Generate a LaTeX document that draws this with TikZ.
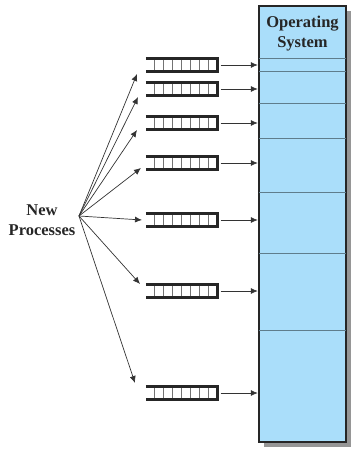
\documentclass[tikz,border=0pt]{standalone}
\usepackage{fontspec}
\setmainfont{Liberation Serif}
\usetikzlibrary{arrows.meta}
\definecolor{osblue}{RGB}{170,222,250}
\definecolor{osline}{RGB}{95,125,140}
\definecolor{shadowgray}{RGB}{150,150,150}
\tikzset{
  qnode/.style={minimum width=71pt, minimum height=13pt, inner sep=0pt, draw=none},
  qbar/.style={line width=3pt, black!85, line join=miter},
  qdiv/.style={line width=0.8pt, black!55},
  arr/.style={-{Latex[length=7pt,width=6pt]}, line width=0.7pt, draw=black!80},
  osbox/.style={minimum width=87pt, minimum height=436pt, inner sep=0pt, fill=osblue, draw=black!85, line width=2.5pt},
  ossep/.style={line width=1pt, osline},
  lbl/.style={font=\fontsize{16.5}{20}\selectfont\bfseries, align=center, text=black!85, inner sep=0pt}
}
\begin{document}
\begin{tikzpicture}[x=1pt, y=-1pt]
\useasboundingbox (0,0) rectangle (352,449);
% shadow and memory
\fill[shadowgray] (264,11) rectangle (351,447);
\node[osbox] (os) at (302.5,224) {};
\foreach \yy in {59,72,104,139,192,253,330}
  \draw[ossep] ([xshift=1.25pt]os.west |- 0,\yy) -- ([xshift=-1.25pt]os.east |- 0,\yy);
\node[lbl, anchor=base] (ostext) at (302.5,48) {Operating\\System};
% new processes
\node[lbl, anchor=base] (np) at (42,235) {New\\Processes};
\coordinate (src) at (79,216);
% queues
\foreach \i/\yc/\tx/\ty in {1/65/137/74, 2/89/138/97, 3/123/137/130, 4/163/141/168, 5/220/142/220, 6/291/140/284, 7/393/135/383} {
  \node[qnode] (q\i) at (181.5,\yc) {};
  \foreach \k in {1,...,7}
    \draw[qdiv] ([xshift=\k*8.875pt]q\i.north west) -- ([xshift=\k*8.875pt]q\i.south west);
  \draw[qbar] (q\i.north west) -- (q\i.north east) -- (q\i.south east) -- (q\i.south west);
  \coordinate (t\i) at (\tx,\ty);
  \draw[arr] (src) -- (t\i);
  \draw[arr, shorten <=3.5pt] (q\i.east) -- (q\i.east -| os.west);
}
\end{tikzpicture}
\end{document}
